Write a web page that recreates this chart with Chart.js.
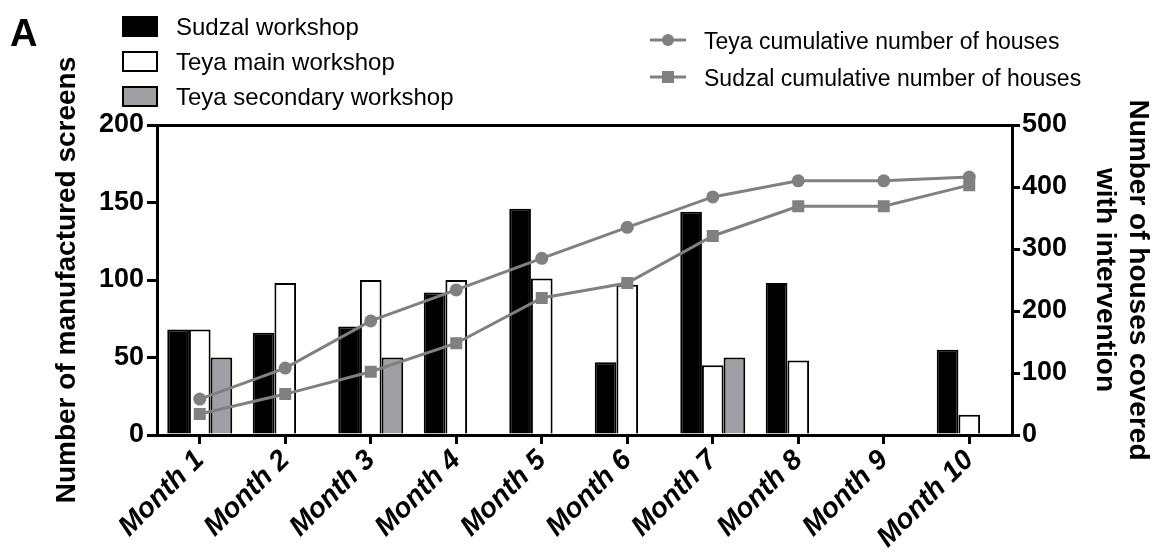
<!DOCTYPE html>
<html>
<head>
<meta charset="utf-8">
<script src="https://cdn.jsdelivr.net/npm/chart.js"></script>
<style>
  body { margin: 0; background: #fff; font-family: "Liberation Sans", Arial, sans-serif; }
  #wrap { position: relative; width: 1163px; height: 559px; }
  .lbl { position: absolute; font-size: 24px; line-height: 24px; color: #000; white-space: nowrap; }
  .box { position: absolute; width: 32px; height: 17px; border: 2px solid #000; }
  .panel { position: absolute; left: 10px; top: 12px; font-size: 38px; font-weight: bold; }
</style>
</head>
<body>
<div id="wrap">
  <canvas id="chart" width="1163" height="559"></canvas>
  <div class="panel">A</div>
  <div id="legend"></div>
</div>
<script>
const months = ['Month 1', 'Month 2', 'Month 3', 'Month 4', 'Month 5', 'Month 6', 'Month 7', 'Month 8', 'Month 9', 'Month 10'];
const sudzalScreens = [68, 66, 70, 92, 146, 47, 144, 98, 0, 55];
const teyaMainScreens = [68, 98, 100, 100, 101, 97, 45, 48, 0, 13];
const teyaSecondaryScreens = [50, 0, 50, 0, 0, 0, 50, 0, 0, 0];
const teyaHouses = [58, 108, 184, 234, 285, 335, 384, 410, 410, 416];
const sudzalHouses = [34, 66, 102, 148, 221, 245, 321, 369, 369, 403];
const leftTicks = [0, 50, 100, 150, 200];
const rightTicks = [0, 100, 200, 300, 400, 500];

const font = "'Liberation Sans', Arial, sans-serif";
const lineGrey = '#808080';

const barSets = [
    { label: 'Sudzal workshop', data: sudzalScreens, fill: '#000000' },
    { label: 'Teya main workshop', data: teyaMainScreens, fill: '#ffffff' },
    { label: 'Teya secondary workshop', data: teyaSecondaryScreens, fill: '#a0a0a4' }
];
const lineSets = [
    { label: 'Teya cumulative number of houses', data: teyaHouses, style: 'circle' },
    { label: 'Sudzal cumulative number of houses', data: sudzalHouses, style: 'rect' }
];

// legend (html)
const legend = document.getElementById('legend');
barSets.forEach((s, i) => {
    const y = 16 + i * 35;
    legend.insertAdjacentHTML('beforeend',
        `<div class="box" style="left:122px;top:${y}px;background:${s.fill}"></div>` +
        `<div class="lbl" style="left:176px;top:${y - 1}px">${s.label}</div>`);
});
lineSets.forEach((s, i) => {
    const y = 40 + i * 37;
    const mark = s.style === 'circle'
        ? `<circle cx="18" cy="8" r="6" fill="${lineGrey}"/>`
        : `<rect x="12" y="2" width="12" height="12" fill="${lineGrey}"/>`;
    legend.insertAdjacentHTML('beforeend',
        `<svg style="position:absolute;left:650px;top:${y - 8}px" width="36" height="16">` +
        `<line x1="0" y1="8" x2="36" y2="8" stroke="${lineGrey}" stroke-width="3"/>${mark}</svg>` +
        `<div class="lbl" style="left:704px;top:${y - 11}px;font-size:23px">${s.label}</div>`);
});

const datasets = barSets.map(s => ({
    type: 'bar',
    label: s.label,
    data: s.data,
    backgroundColor: s.fill,
    borderColor: '#000',
    borderWidth: 2,
    barPercentage: 1,
    categoryPercentage: 0.76,
    yAxisID: 'y',
    order: 2
})).concat(lineSets.map(s => ({
    type: 'line',
    label: s.label,
    data: s.data,
    borderColor: lineGrey,
    backgroundColor: lineGrey,
    borderWidth: 3,
    pointStyle: s.style,
    pointRadius: s.style === 'rect' ? 8.5 : 6.5,
    pointBorderWidth: 0,
    yAxisID: 'y1',
    order: 0
})));

new Chart(document.getElementById('chart'), {
    data: { labels: months, datasets: datasets },
    options: {
        responsive: false,
        animation: false,
        layout: { padding: { top: 125, left: 50, right: 8, bottom: 0 } },
        plugins: { legend: { display: false }, tooltip: { enabled: false } },
        scales: {
            x: {
                grid: { offset: false, drawOnChartArea: false, tickColor: '#000', tickLength: 9, lineWidth: 3 },
                border: { color: '#000', width: 3 },
                ticks: {
                    color: '#000', maxRotation: 45, minRotation: 45, padding: 0,
                    font: { family: font, size: 28, weight: 'bold', style: 'italic' }
                },
                afterFit: s => { s.height = 124; }
            },
            y: {
                position: 'left', min: 0, max: 200,
                afterBuildTicks: s => { s.ticks = leftTicks.map(v => ({ value: v })); },
                grid: {
                    color: c => c.tick && c.tick.value === 200 ? '#000' : 'rgba(0,0,0,0)',
                    tickColor: '#000', tickLength: 10, lineWidth: 3
                },
                border: { color: '#000', width: 3 },
                ticks: { color: '#000', padding: 3, font: { family: font, size: 27, weight: 'bold' } },
                title: {
                    display: true, text: 'Number of manufactured screens', color: '#000', padding: 0,
                    font: { family: font, size: 28, weight: 'bold' }
                },
                afterFit: s => { s.width = 107; }
            },
            y1: {
                position: 'right', min: 0, max: 500,
                afterBuildTicks: s => { s.ticks = rightTicks.map(v => ({ value: v })); },
                grid: { drawOnChartArea: false, tickColor: '#000', tickLength: 8, lineWidth: 3 },
                border: { color: '#000', width: 3 },
                ticks: { color: '#000', padding: 2, font: { family: font, size: 27, weight: 'bold' } },
                title: {
                    display: true, text: ['Number of houses covered', 'with intervention'], color: '#000', padding: 0,
                    font: { family: font, size: 28, weight: 'bold' }
                },
                afterFit: s => { s.width = 143; }
            }
        }
    }
});
</script>
</body>
</html>
